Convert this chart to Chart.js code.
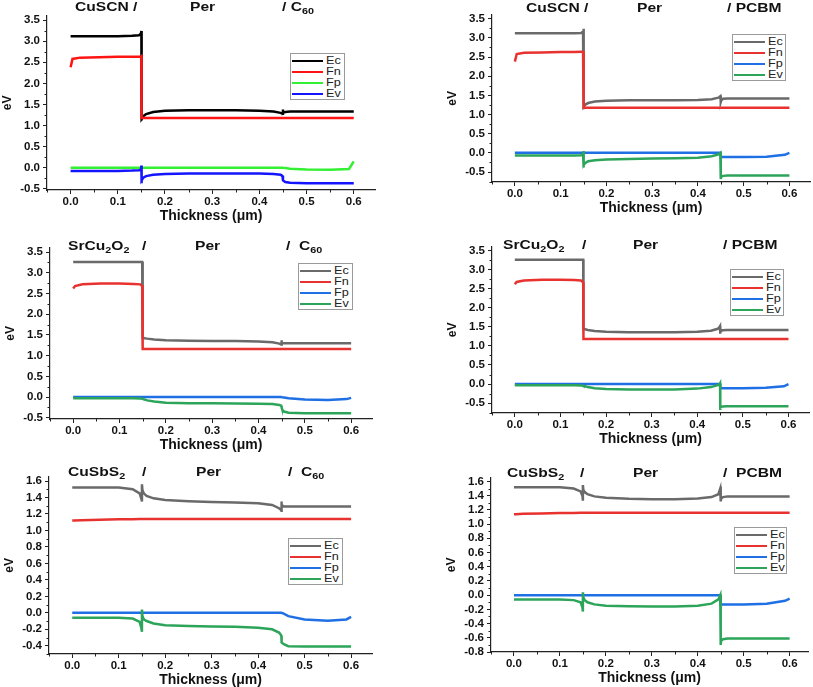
<!DOCTYPE html>
<html>
<head>
<meta charset="utf-8">
<script src="https://cdn.jsdelivr.net/npm/chart.js@4.4.1/dist/chart.umd.min.js"></script>
<style>
  html,body{margin:0;padding:0;background:#fff;}
  body{width:813px;height:687px;position:relative;overflow:hidden;font-family:"Liberation Sans",Arial,sans-serif;}
  .cv{position:absolute;}
  .ttl{position:absolute;font-weight:bold;font-size:13px;line-height:14px;white-space:nowrap;color:#111;transform:scaleX(1.2);transform-origin:0 0;}
  .ttl sub{font-size:9px;vertical-align:-3px;line-height:0;}
  .lg{position:absolute;border:1px solid #9a9a9a;background:#fff;font-size:11px;color:#222;box-sizing:border-box;padding-top:1px;}
  .lg .row{height:11px;line-height:11px;white-space:nowrap;}
  .lg .ln{display:inline-block;width:31px;height:2.5px;vertical-align:middle;margin:0 3px 0 1px;}
  .lg .tx{display:inline-block;transform:scaleX(1.15);transform-origin:0 50%;}
</style>
</head>
<body>
<script>
// ---------- data (x grid in µm, shared by every panel) ----------
const thickness = [0, 0.004, 0.02, 0.06, 0.1, 0.13, 0.145, 0.149, 0.15, 0.15, 0.151, 0.154, 0.16, 0.175, 0.2, 0.25, 0.3, 0.35, 0.4, 0.43, 0.445, 0.449, 0.45, 0.45, 0.451, 0.455, 0.465, 0.5, 0.55, 0.59, 0.6];
const seriesNames = ['Ec', 'Fn', 'Fp', 'Ev'];

// CuSCN / Per / C60
const cuscnC60_Ec = [3.12,3.12,3.12,3.12,3.12,3.13,3.14,3.18,3.24,1.12,1.16,1.22,1.27,1.32,1.35,1.36,1.36,1.36,1.35,1.33,1.30,1.28,1.38,1.30,1.31,1.32,1.33,1.33,1.33,1.33,1.33];
const cuscnC60_Fn = [2.38,2.58,2.61,2.62,2.63,2.63,2.63,2.63,2.64,1.18,1.18,1.18,1.18,1.18,1.18,1.18,1.18,1.18,1.18,1.18,1.18,1.18,1.18,1.18,1.18,1.18,1.18,1.18,1.18,1.18,1.18];
const cuscnC60_Fp = [0,0,0,0,0,0,0,0,0,0,0,0,0,0,0,0,0,0,0,0,0,0,0,0,-0.005,-0.01,-0.025,-0.045,-0.05,-0.03,0.15];
const cuscnC60_Ev = [-0.08,-0.08,-0.08,-0.08,-0.08,-0.07,-0.06,-0.04,0.05,-0.37,-0.30,-0.24,-0.20,-0.17,-0.15,-0.14,-0.14,-0.14,-0.14,-0.15,-0.17,-0.20,-0.26,-0.30,-0.31,-0.34,-0.36,-0.37,-0.37,-0.37,-0.37];

// CuSCN / Per / PCBM
const cuscnPCBM_Ec = [3.12,3.12,3.12,3.12,3.12,3.12,3.13,3.16,3.24,1.14,1.20,1.26,1.30,1.34,1.36,1.37,1.37,1.37,1.38,1.40,1.44,1.48,1.50,1.33,1.37,1.41,1.42,1.42,1.42,1.42,1.42];
const cuscnPCBM_Fn = [2.38,2.58,2.61,2.62,2.63,2.63,2.64,2.64,2.64,1.18,1.18,1.18,1.18,1.18,1.18,1.18,1.18,1.18,1.18,1.18,1.18,1.18,1.18,1.18,1.18,1.18,1.18,1.18,1.18,1.18,1.18];
const cuscnPCBM_Fp = [0,0,0,0,0,0,0,0,0,0,0,0,0,0,0,0,0,0,0,0,0,0,0,-0.11,-0.11,-0.11,-0.11,-0.11,-0.10,-0.05,0.0];
const cuscnPCBM_Ev = [-0.07,-0.07,-0.07,-0.07,-0.07,-0.07,-0.06,-0.03,0.05,-0.38,-0.32,-0.26,-0.22,-0.19,-0.17,-0.16,-0.15,-0.14,-0.13,-0.09,-0.04,0.0,0.02,-0.68,-0.62,-0.60,-0.59,-0.59,-0.59,-0.59,-0.59];

// SrCu2O2 / Per / C60
const srcuC60_Ec = [3.26,3.26,3.26,3.26,3.26,3.26,3.26,3.26,3.26,1.43,1.43,1.42,1.41,1.39,1.37,1.36,1.35,1.35,1.34,1.32,1.29,1.27,1.37,1.30,1.30,1.30,1.30,1.30,1.30,1.30,1.30];
const srcuC60_Fn = [2.62,2.68,2.72,2.74,2.74,2.73,2.72,2.68,2.66,1.16,1.16,1.16,1.16,1.16,1.16,1.16,1.16,1.16,1.16,1.16,1.16,1.16,1.16,1.16,1.16,1.16,1.16,1.16,1.16,1.16,1.16];
const srcuC60_Fp = [0,0,0,0,0,0,0,0,0,0,0,0,0,0,0,0,0,0,0,0,0,0,0,0,-0.005,-0.01,-0.03,-0.06,-0.07,-0.05,-0.02];
const srcuC60_Ev = [-0.03,-0.03,-0.03,-0.03,-0.03,-0.03,-0.035,-0.04,-0.045,-0.045,-0.05,-0.06,-0.08,-0.11,-0.14,-0.15,-0.15,-0.155,-0.16,-0.17,-0.19,-0.21,-0.25,-0.25,-0.30,-0.35,-0.38,-0.39,-0.39,-0.39,-0.39];

// SrCu2O2 / Per / PCBM
const srcuPCBM_Ec = [3.26,3.26,3.26,3.26,3.26,3.26,3.26,3.26,3.26,1.45,1.45,1.44,1.42,1.39,1.37,1.36,1.36,1.36,1.37,1.40,1.45,1.50,1.52,1.32,1.38,1.41,1.42,1.42,1.42,1.42,1.42];
const srcuPCBM_Fn = [2.62,2.68,2.72,2.74,2.74,2.73,2.72,2.68,2.66,1.18,1.18,1.18,1.18,1.18,1.18,1.18,1.18,1.18,1.18,1.18,1.18,1.18,1.18,1.18,1.18,1.18,1.18,1.18,1.18,1.18,1.18];
const srcuPCBM_Fp = [0,0,0,0,0,0,0,0,0,0,0,0,0,0,0,0,0,0,0,0,0,0,0,-0.11,-0.11,-0.11,-0.11,-0.11,-0.10,-0.06,0.0];
const srcuPCBM_Ev = [-0.03,-0.03,-0.03,-0.03,-0.03,-0.03,-0.035,-0.04,-0.045,-0.045,-0.05,-0.06,-0.08,-0.11,-0.13,-0.14,-0.14,-0.14,-0.12,-0.08,-0.03,0.0,0.02,-0.68,-0.62,-0.59,-0.58,-0.58,-0.58,-0.58,-0.58];

// CuSbS2 / Per / C60
const cusbsC60_Ec = [1.52,1.52,1.52,1.52,1.52,1.50,1.45,1.38,1.35,1.56,1.49,1.45,1.42,1.39,1.37,1.355,1.345,1.34,1.33,1.31,1.27,1.25,1.24,1.35,1.31,1.29,1.29,1.29,1.29,1.29,1.29];
const cusbsC60_Fn = [1.12,1.12,1.125,1.13,1.135,1.135,1.14,1.14,1.14,1.14,1.14,1.14,1.14,1.14,1.14,1.14,1.14,1.14,1.14,1.14,1.14,1.14,1.14,1.14,1.14,1.14,1.14,1.14,1.14,1.14,1.14];
const cusbsC60_Fp = [0,0,0,0,0,0,0,0,0,0,0,0,0,0,0,0,0,0,0,0,0,0,0,0,0,-0.01,-0.04,-0.08,-0.095,-0.08,-0.05];
const cusbsC60_Ev = [-0.06,-0.06,-0.06,-0.06,-0.06,-0.07,-0.11,-0.19,-0.23,0.04,-0.04,-0.08,-0.10,-0.13,-0.15,-0.16,-0.165,-0.17,-0.18,-0.20,-0.24,-0.27,-0.28,-0.33,-0.36,-0.38,-0.405,-0.41,-0.41,-0.41,-0.41];

// CuSbS2 / Per / PCBM
const cusbsPCBM_Ec = [1.52,1.52,1.52,1.52,1.52,1.50,1.46,1.40,1.33,1.55,1.48,1.45,1.42,1.39,1.37,1.355,1.35,1.35,1.36,1.38,1.42,1.50,1.53,1.32,1.36,1.38,1.39,1.39,1.39,1.39,1.39];
const cusbsPCBM_Fn = [1.14,1.14,1.145,1.15,1.155,1.155,1.16,1.16,1.16,1.16,1.16,1.16,1.16,1.16,1.16,1.16,1.16,1.16,1.16,1.16,1.16,1.16,1.16,1.16,1.16,1.16,1.16,1.16,1.16,1.16,1.16];
const cusbsPCBM_Fp = [0,0,0,0,0,0,0,0,0,0,0,0,0,0,0,0,0,0,0,0,0,0,0,-0.13,-0.13,-0.13,-0.13,-0.13,-0.12,-0.08,-0.05];
const cusbsPCBM_Ev = [-0.06,-0.06,-0.06,-0.06,-0.06,-0.07,-0.10,-0.17,-0.23,0.04,-0.03,-0.07,-0.10,-0.13,-0.15,-0.155,-0.16,-0.16,-0.15,-0.12,-0.06,0.0,0.01,-0.70,-0.64,-0.62,-0.61,-0.61,-0.61,-0.61,-0.61];

// ---------- colours ----------
const colorsBright = ['#000000', '#ff1414', '#33f033', '#1414ff'];
const colorsSoft   = ['#6a6a6a', '#e8322f', '#1f6fe5', '#2ca55a'];

// ---------- panel layout ----------
const panels = [
  { L:47,  T:14,  R:375, B:190, xMax:0.645, yMin:-0.53, yMax:3.6,  yStep:0.25, yMajor:0.5,
    series:[cuscnC60_Ec, cuscnC60_Fn, cuscnC60_Fp, cuscnC60_Ev], colors:colorsBright,
    title:[['CuSCN /',75,0],['Per',190,0],['/ C<sub>60</sub>',282,0]], legend:[290,53,55,47] },
  { L:492, T:13,  R:810, B:182, xMax:0.645, yMin:-0.76, yMax:3.6,  yStep:0.25, yMajor:0.5,
    series:[cuscnPCBM_Ec, cuscnPCBM_Fn, cuscnPCBM_Fp, cuscnPCBM_Ev], colors:colorsSoft,
    title:[['CuSCN /',526,1],['Per',637,1],['/ PCBM',727,1]], legend:[732,34,54,47] },
  { L:50,  T:246, R:372, B:419, xMax:0.645, yMin:-0.53, yMax:3.6,  yStep:0.25, yMajor:0.5,
    series:[srcuC60_Ec, srcuC60_Fn, srcuC60_Fp, srcuC60_Ev], colors:colorsSoft,
    title:[['SrCu<sub>2</sub>O<sub>2</sub>',68,239],['/',142,239],['Per',195,239],['/&nbsp; C<sub>60</sub>',286,239]], legend:[298,263,55,47] },
  { L:492, T:245, R:809, B:413, xMax:0.645, yMin:-0.76, yMax:3.6,  yStep:0.25, yMajor:0.5,
    series:[srcuPCBM_Ec, srcuPCBM_Fn, srcuPCBM_Fp, srcuPCBM_Ev], colors:colorsSoft,
    title:[['SrCu<sub>2</sub>O<sub>2</sub>',503,238],['/',582,238],['Per',633,238],['/ PCBM',723,238]], legend:[730,269,54,47] },
  { L:49,  T:475, R:372, B:654, xMax:0.645, yMin:-0.5,  yMax:1.65, yStep:0.1,  yMajor:0.2,
    series:[cusbsC60_Ec, cusbsC60_Fn, cusbsC60_Fp, cusbsC60_Ev], colors:colorsSoft,
    title:[['CuSbS<sub>2</sub>',68,465],['/',142,465],['Per',196,465],['/&nbsp; C<sub>60</sub>',288,465]], legend:[288,538,55,47] },
  { L:491, T:476, R:808, B:652, xMax:0.64,  yMin:-0.8,  yMax:1.65, yStep:0.1,  yMajor:0.2,
    series:[cusbsPCBM_Ec, cusbsPCBM_Fn, cusbsPCBM_Fp, cusbsPCBM_Ev], colors:colorsSoft,
    title:[['CuSbS<sub>2</sub>',507,466],['/',580,466],['Per',633,466],['/&nbsp; PCBM',723,466]], legend:[734,527,53,47] }
];

const FONT = '"Liberation Sans", Arial, sans-serif';
function isMajor(v, step){ const r = v/step; return Math.abs(r - Math.round(r)) < 1e-6; }
function fmt(v){ return (Math.round(v*100)/100 + 0).toFixed(1); }

const minorTicks = {
  id: 'minorTicks',
  afterDraw(chart, args, opts){
    const ctx = chart.ctx, a = chart.chartArea;
    ctx.save();
    ctx.strokeStyle = '#222'; ctx.lineWidth = 1;
    const sx = chart.scales.x, sy = chart.scales.y;
    sx.ticks.forEach(t => {
      if (isMajor(t.value, opts.xMajor)) return;
      const px = Math.round(sx.getPixelForValue(t.value)) + 0.5;
      ctx.beginPath(); ctx.moveTo(px, a.bottom); ctx.lineTo(px, a.bottom + 2.5); ctx.stroke();
    });
    sy.ticks.forEach(t => {
      if (isMajor(t.value, opts.yMajor)) return;
      const py = Math.round(sy.getPixelForValue(t.value)) + 0.5;
      ctx.beginPath(); ctx.moveTo(a.left - 2.5, py); ctx.lineTo(a.left, py); ctx.stroke();
    });
    ctx.restore();
  }
};

const AXW = 47, AXH = 35, PT = 8, PR = 4;

panels.forEach(p => {
  const w = p.R - p.L + AXW + PR, h = p.B - p.T + PT + AXH;
  const cv = document.createElement('canvas');
  cv.className = 'cv';
  cv.width = w; cv.height = h;
  cv.style.left = (p.L - AXW) + 'px'; cv.style.top = (p.T - PT) + 'px';
  cv.style.width = w + 'px'; cv.style.height = h + 'px';
  document.body.appendChild(cv);

  const datasets = p.series.map((arr, i) => ({
    label: seriesNames[i],
    data: thickness.map((x, k) => ({ x: x, y: arr[k] })),
    borderColor: p.colors[i],
    backgroundColor: p.colors[i],
    borderWidth: 2.5,
    pointRadius: 0,
    tension: 0,
    fill: false,
    order: 3 - i
  }));

  new Chart(cv, {
    type: 'line',
    data: { datasets },
    plugins: [minorTicks],
    options: {
      responsive: false,
      animation: false,
      devicePixelRatio: 1,
      layout: { padding: { left: 0, top: PT, right: PR, bottom: 0 } },
      plugins: {
        legend: { display: false },
        tooltip: { enabled: false },
        minorTicks: { xMajor: 0.1, yMajor: p.yMajor }
      },
      scales: {
        x: {
          type: 'linear',
          min: -0.05, max: p.xMax,
          afterFit: s => { s.height = AXH; },
          border: { display: true, color: '#222', width: 1.2 },
          grid: { display: true, drawOnChartArea: false, drawTicks: true, tickLength: 4, tickWidth: 1,
                  tickColor: c => (c.tick && isMajor(c.tick.value, 0.1)) ? '#222' : 'rgba(0,0,0,0)' },
          ticks: { stepSize: 0.05, includeBounds: false, autoSkip: false, maxRotation: 0, padding: 1,
                   color: '#111', font: { family: FONT, size: 11.5, weight: 'bold' },
                   callback: v => isMajor(v, 0.1) ? fmt(v) : '' },
          title: { display: true, text: 'Thickness (\u03bcm)', color: '#111', padding: 0,
                   font: { family: FONT, size: 14, weight: 'bold' } }
        },
        y: {
          type: 'linear',
          min: p.yMin, max: p.yMax,
          afterFit: s => { s.width = AXW; },
          border: { display: true, color: '#222', width: 1.2 },
          grid: { display: true, drawOnChartArea: false, drawTicks: true, tickLength: 4, tickWidth: 1,
                  tickColor: c => (c.tick && isMajor(c.tick.value, p.yMajor)) ? '#222' : 'rgba(0,0,0,0)' },
          ticks: { stepSize: p.yStep, includeBounds: false, autoSkip: false, padding: 3,
                   color: '#111', font: { family: FONT, size: 11.5, weight: 'bold' },
                   callback: v => isMajor(v, p.yMajor) ? fmt(v) : '' },
          title: { display: true, text: 'eV', color: '#111', padding: 0,
                   font: { family: FONT, size: 12, weight: 'bold' } }
        }
      }
    }
  });

  // layer labels above the plot
  p.title.forEach(([html, x, y]) => {
    const d = document.createElement('div');
    d.className = 'ttl';
    d.innerHTML = html;
    d.style.left = x + 'px'; d.style.top = y + 'px';
    document.body.appendChild(d);
  });

  // legend box inside the plot
  const [lx, ly, lw, lh] = p.legend;
  const lg = document.createElement('div');
  lg.className = 'lg';
  lg.style.left = lx + 'px'; lg.style.top = ly + 'px';
  lg.style.width = lw + 'px'; lg.style.height = lh + 'px';
  seriesNames.forEach((n, i) => {
    const row = document.createElement('div');
    row.className = 'row';
    const ln = document.createElement('span');
    ln.className = 'ln'; ln.style.background = p.colors[i];
    const tx = document.createElement('span');
    tx.className = 'tx';
    tx.textContent = n;
    row.appendChild(ln); row.appendChild(tx);
    lg.appendChild(row);
  });
  document.body.appendChild(lg);
});
</script>
</body>
</html>
